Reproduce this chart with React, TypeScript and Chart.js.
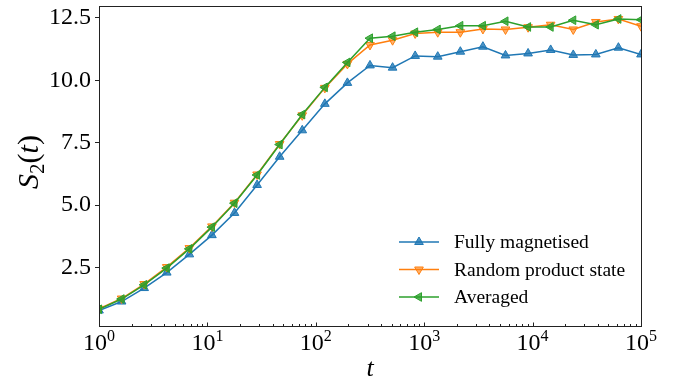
import React, { useEffect, useRef } from "react";
import { Chart, registerables } from "chart.js";
Chart.register(...registerables);

const tValues = [1, 1.616, 2.61, 4.217, 6.813, 11.01, 17.78, 28.73, 46.42, 74.99, 121.2, 195.7, 316.2, 510.9, 825.4, 1333.5, 2154.4, 3480.7, 5623.4, 9085.2, 14678, 23714, 38312, 61897, 100000];
const fullyMagnetised = [0.78, 1.14, 1.68, 2.3, 3.03, 3.8, 4.69, 5.81, 6.94, 8.0, 9.06, 9.9, 10.6, 10.51, 10.98, 10.95, 11.15, 11.35, 11.0, 11.08, 11.22, 11.02, 11.04, 11.31, 11.04];
const randomProduct = [0.85, 1.26, 1.84, 2.52, 3.28, 4.15, 5.1, 6.23, 7.45, 8.6, 9.7, 10.66, 11.42, 11.61, 11.88, 11.93, 11.93, 12.06, 12.04, 12.13, 12.23, 12.04, 12.34, 12.46, 12.17];
const averaged = [0.83, 1.24, 1.81, 2.48, 3.25, 4.12, 5.08, 6.21, 7.43, 8.63, 9.72, 10.72, 11.69, 11.77, 11.93, 12.04, 12.19, 12.19, 12.37, 12.14, 12.14, 12.41, 12.23, 12.46, 12.43];
const seriesLabels = ["Fully magnetised", "Random product state", "Averaged"];
const yTicks = [2.5, 5, 7.5, 10, 12.5];
const xPowers = [0, 1, 2, 3, 4, 5];

const FONT = '"Liberation Serif", "Times New Roman", "DejaVu Serif", serif';
const COLORS = ["#1f77b4", "#ff7f0e", "#2ca02c"];
const FILLS = ["rgba(31,119,180,0.8)", "rgba(255,127,14,0.6)", "rgba(44,160,44,0.8)"];
const ROTS = [0, 180, 270];

function drawTri(ctx: CanvasRenderingContext2D, cx: number, cy: number, r: number, rotDeg: number, fill: string, stroke: string) {
  let rad = (rotDeg * Math.PI) / 180;
  ctx.beginPath();
  ctx.moveTo(cx + Math.sin(rad) * r, cy - Math.cos(rad) * r);
  rad += (2 * Math.PI) / 3;
  ctx.lineTo(cx + Math.sin(rad) * r, cy - Math.cos(rad) * r);
  rad += (2 * Math.PI) / 3;
  ctx.lineTo(cx + Math.sin(rad) * r, cy - Math.cos(rad) * r);
  ctx.closePath();
  ctx.fillStyle = fill;
  ctx.fill();
  ctx.strokeStyle = stroke;
  ctx.lineWidth = 1;
  ctx.stroke();
}

const decor = {
  id: "decor",
  afterDraw(chart: any) {
    const { ctx, chartArea: a, scales } = chart;
    const xs = scales.x;
    ctx.save();
    // frame
    ctx.strokeStyle = "#222";
    ctx.lineWidth = 1;
    ctx.strokeRect(a.left + 0.5, a.top + 0.5, a.right - a.left, a.bottom - a.top);
    // x ticks (inward)
    ctx.beginPath();
    for (const p of xPowers) {
      for (let m = 1; m <= 9; m++) {
        const v = m * Math.pow(10, p);
        if (v > 1e5) break;
        const px = Math.round(xs.getPixelForValue(v)) + 0.5;
        const len = m === 1 ? 4 : 2.5;
        ctx.moveTo(px, a.bottom + 0.5);
        ctx.lineTo(px, a.bottom + 0.5 - len);
      }
    }
    ctx.stroke();
    // x tick labels with superscripts
    ctx.fillStyle = "#000";
    ctx.textBaseline = "alphabetic";
    ctx.textAlign = "left";
    for (const p of xPowers) {
      const px = xs.getPixelForValue(Math.pow(10, p));
      ctx.font = `24px ${FONT}`;
      const w1 = ctx.measureText("10").width;
      ctx.font = `16px ${FONT}`;
      const w2 = ctx.measureText(String(p)).width;
      const start = px - (w1 + w2) / 2;
      ctx.font = `24px ${FONT}`;
      ctx.fillText("10", start, a.bottom + 24);
      ctx.font = `16px ${FONT}`;
      ctx.fillText(String(p), start + w1, a.bottom + 15);
    }
    // x title
    ctx.font = `italic 26px ${FONT}`;
    ctx.textAlign = "center";
    ctx.textBaseline = "middle";
    ctx.fillText("t", (a.left + a.right) / 2, 369);
    // y title S_2(t)
    ctx.save();
    ctx.translate(28, (a.top + a.bottom) / 2 - 4);
    ctx.rotate(-Math.PI / 2);
    const pieces = [
      { t: "S", f: `italic 30px ${FONT}`, dy: 0 },
      { t: "2", f: `21px ${FONT}`, dy: 6 },
      { t: "(", f: `30px ${FONT}`, dy: 0 },
      { t: "t", f: `italic 30px ${FONT}`, dy: 0 },
      { t: ")", f: `30px ${FONT}`, dy: 0 },
    ];
    let total = 0;
    const widths = pieces.map((pc) => {
      ctx.font = pc.f;
      const w = ctx.measureText(pc.t).width;
      total += w;
      return w;
    });
    let cx = -total / 2;
    ctx.textAlign = "left";
    ctx.textBaseline = "alphabetic";
    pieces.forEach((pc, i) => {
      ctx.font = pc.f;
      ctx.fillText(pc.t, cx, 10 + pc.dy);
      cx += widths[i];
    });
    ctx.restore();
    // legend
    const lx = 399;
    seriesLabels.forEach((lab, i) => {
      const ly = 242 + i * 27.5;
      ctx.strokeStyle = COLORS[i];
      ctx.lineWidth = 1.5;
      ctx.beginPath();
      ctx.moveTo(lx, ly);
      ctx.lineTo(lx + 40, ly);
      ctx.stroke();
      drawTri(ctx, lx + 20, ly, 5, ROTS[i], FILLS[i], COLORS[i]);
      ctx.fillStyle = "#000";
      ctx.font = `19.5px ${FONT}`;
      ctx.textAlign = "left";
      ctx.textBaseline = "middle";
      ctx.fillText(lab, lx + 55, ly + 1);
    });
    ctx.restore();
  },
};

export default function App() {
  const ref = useRef<HTMLCanvasElement>(null);
  useEffect(() => {
    const series = [fullyMagnetised, randomProduct, averaged];
    const chart = new Chart(ref.current as HTMLCanvasElement, {
      type: "line",
      data: {
        datasets: series.map((vals, i) => ({
          label: seriesLabels[i],
          data: tValues.map((t, j) => ({ x: t, y: vals[j] })),
          borderColor: COLORS[i],
          backgroundColor: FILLS[i],
          pointBackgroundColor: FILLS[i],
          pointBorderColor: COLORS[i],
          pointBorderWidth: 1,
          pointRadius: 5,
          pointStyle: "triangle",
          pointRotation: ROTS[i],
          borderWidth: 1.5,
          tension: 0,
          fill: false,
          order: 3 - i,
        })),
      },
      options: {
        responsive: false,
        devicePixelRatio: 1,
        animation: false,
        layout: { padding: { left: 0, top: 3, right: 54, bottom: 0 } },
        plugins: { legend: { display: false }, tooltip: { enabled: false } },
        scales: {
          x: {
            type: "logarithmic",
            min: 1,
            max: 100000,
            ticks: { display: false },
            grid: { display: false },
            border: { display: false },
            afterFit: (s: any) => {
              s.height = 60;
              s.paddingLeft = 0;
              s.paddingRight = 0;
            },
          },
          y: {
            type: "linear",
            min: 0.16,
            max: 12.98,
            afterBuildTicks: (s: any) => {
              s.ticks = yTicks.map((v) => ({ value: v }));
            },
            ticks: {
              color: "#000",
              padding: 4,
              font: { family: FONT, size: 24 },
              callback: (v: any) => Number(v).toFixed(1),
            },
            grid: { drawOnChartArea: false, drawTicks: true, tickLength: 4, color: "#222" },
            border: { display: false },
            afterFit: (s: any) => {
              s.width = 99;
              s.paddingTop = 0;
              s.paddingBottom = 0;
            },
          },
        },
      },
      plugins: [decor],
    } as any);
    return () => chart.destroy();
  }, []);
  return (
    <div style={{ position: "absolute", left: 0, top: 0, width: 695, height: 386, background: "#fff" }}>
      <canvas ref={ref} width={695} height={386} style={{ display: "block", width: 695, height: 386 }} />
    </div>
  );
}
